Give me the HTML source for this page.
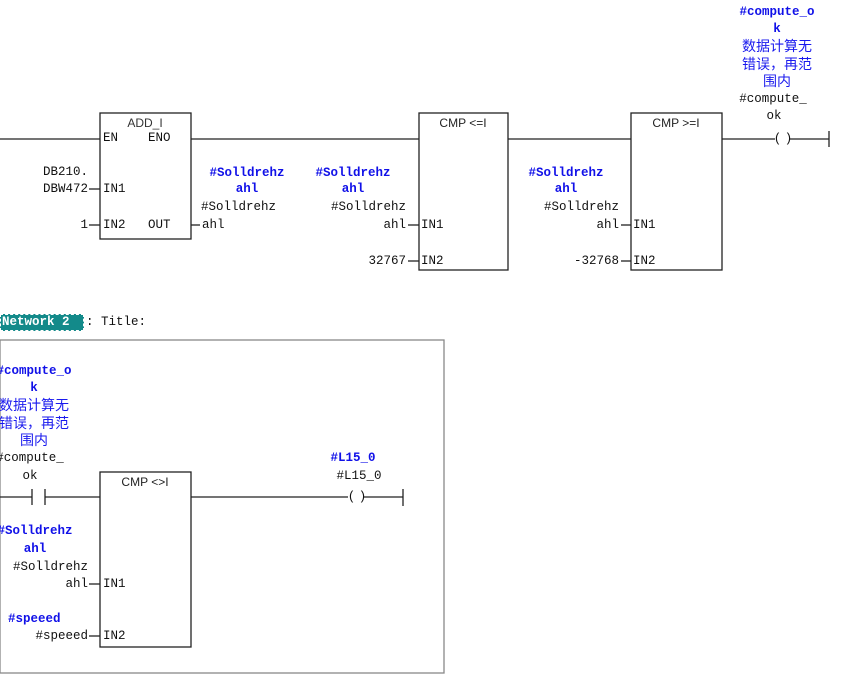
<!DOCTYPE html>
<html><head><meta charset="utf-8">
<style>
html,body{margin:0;padding:0;background:#fff;}
body{width:843px;height:675px;position:relative;overflow:hidden;}
.t,.b,.s{position:absolute;white-space:nowrap;line-height:16px;height:16px;}
.t{font-family:"Liberation Mono","Noto Sans CJK SC",monospace;font-size:12.5px;color:#111;letter-spacing:0;}
.b{font-family:"Liberation Mono","Noto Sans CJK SC",monospace;font-size:12.5px;font-weight:bold;color:#1010e8;letter-spacing:0;}
.c{font-family:"Liberation Sans","Noto Sans CJK SC",sans-serif;font-size:14px;font-weight:normal;color:#1a1aee;letter-spacing:0;}
.s{font-family:"Liberation Sans",sans-serif;font-size:12px;color:#222;}
.ctr{transform:translateX(-50%);text-align:center;}
.r{transform:translateX(-100%);}
svg{position:absolute;left:0;top:0;}
</style></head><body>
<svg width="843" height="675" stroke="#222" stroke-width="1.3" fill="none">
<line x1="0" y1="139" x2="100" y2="139"/>
<rect x="100" y="113" width="91" height="126"/>
<line x1="191" y1="139" x2="419" y2="139"/>
<rect x="419" y="113" width="89" height="157"/>
<line x1="508" y1="139" x2="631" y2="139"/>
<rect x="631" y="113" width="91" height="157"/>
<line x1="722" y1="139" x2="775" y2="139"/>
<line x1="789" y1="139" x2="829" y2="139"/>
<line x1="829" y1="131" x2="829" y2="147"/>
<line x1="89" y1="189" x2="100" y2="189"/>
<line x1="89" y1="225" x2="100" y2="225"/>
<line x1="191" y1="225" x2="200" y2="225"/>
<line x1="408" y1="225" x2="419" y2="225"/>
<line x1="408" y1="261" x2="419" y2="261"/>
<line x1="621" y1="225" x2="631" y2="225"/>
<line x1="621" y1="261" x2="631" y2="261"/>
<rect x="0" y="340" width="444" height="333" stroke="#888"/>
<line x1="0" y1="497" x2="32" y2="497"/>
<line x1="32" y1="489" x2="32" y2="505"/>
<line x1="45" y1="489" x2="45" y2="505"/>
<line x1="45" y1="497" x2="100" y2="497"/>
<rect x="100" y="472" width="91" height="175"/>
<line x1="191" y1="497" x2="348" y2="497"/>
<line x1="363" y1="497" x2="403" y2="497"/>
<line x1="403" y1="489" x2="403" y2="506"/>
<line x1="89" y1="584" x2="100" y2="584"/>
<line x1="89" y1="636" x2="100" y2="636"/>
</svg>

<div class="s ctr" style="left:145px;top:115px;color:#333">ADD_I</div>
<div class="t" style="left:103px;top:130px">EN</div>
<div class="t" style="left:148px;top:130px">ENO</div>
<div class="t" style="left:103px;top:181px">IN1</div>
<div class="t" style="left:103px;top:217px">IN2</div>
<div class="t" style="left:148px;top:217px">OUT</div>
<div class="t" style="left:43px;top:164px">DB210.</div>
<div class="t r" style="left:88px;top:181px">DBW472</div>
<div class="t r" style="left:88px;top:217px">1</div>
<div class="t" style="left:202px;top:217px">ahl</div>
<div class="b ctr" style="left:247px;top:165px">#Solldrehz</div>
<div class="b ctr" style="left:247px;top:181px">ahl</div>
<div class="t" style="left:201px;top:199px">#Solldrehz</div>

<div class="b ctr" style="left:353px;top:165px">#Solldrehz</div>
<div class="b ctr" style="left:353px;top:181px">ahl</div>
<div class="t r" style="left:406px;top:199px">#Solldrehz</div>
<div class="t r" style="left:406px;top:217px">ahl</div>
<div class="t r" style="left:406px;top:253px">32767</div>
<div class="s ctr" style="left:463px;top:115px">CMP &lt;=I</div>
<div class="t" style="left:421px;top:217px">IN1</div>
<div class="t" style="left:421px;top:253px">IN2</div>

<div class="b ctr" style="left:566px;top:165px">#Solldrehz</div>
<div class="b ctr" style="left:566px;top:181px">ahl</div>
<div class="t" style="left:544px;top:199px">#Solldrehz</div>
<div class="t r" style="left:619px;top:217px">ahl</div>
<div class="t r" style="left:619px;top:253px">-32768</div>
<div class="s ctr" style="left:676px;top:115px">CMP &gt;=I</div>
<div class="t" style="left:633px;top:217px">IN1</div>
<div class="t" style="left:633px;top:253px">IN2</div>

<div class="b ctr" style="left:777px;top:4px">#compute_o</div>
<div class="b ctr" style="left:777px;top:21px">k</div>
<div class="b c ctr" style="left:777px;top:38px">数据计算无</div>
<div class="b c ctr" style="left:777px;top:56px">错误，再范</div>
<div class="b c ctr" style="left:777px;top:73px">围内</div>
<div class="t ctr" style="left:773px;top:91px">#compute_</div>
<div class="t ctr" style="left:774px;top:108px">ok</div>
<div class="t ctr" style="left:782px;top:131px;letter-spacing:-2px">( )</div>

<div style="position:absolute;left:0;top:314px;width:84px;height:17px;background:#138a8a;border:1px dashed #fff;box-sizing:border-box;"></div>
<div class="t" style="left:2px;top:314px;color:#fff;font-weight:bold;">Network 2</div>
<div class="t" style="left:86px;top:314px">: Title:</div>

<div class="b ctr" style="left:34px;top:363px">#compute_o</div>
<div class="b ctr" style="left:34px;top:380px">k</div>
<div class="b c ctr" style="left:34px;top:397px">数据计算无</div>
<div class="b c ctr" style="left:34px;top:415px">错误，再范</div>
<div class="b c ctr" style="left:34px;top:432px">围内</div>
<div class="t ctr" style="left:30px;top:450px">#compute_</div>
<div class="t ctr" style="left:30px;top:468px">ok</div>

<div class="s ctr" style="left:145px;top:474px">CMP &lt;&gt;I</div>
<div class="t" style="left:103px;top:576px">IN1</div>
<div class="t" style="left:103px;top:628px">IN2</div>

<div class="b ctr" style="left:35px;top:523px">#Solldrehz</div>
<div class="b ctr" style="left:35px;top:541px">ahl</div>
<div class="t" style="left:13px;top:559px">#Solldrehz</div>
<div class="t r" style="left:88px;top:576px">ahl</div>
<div class="b" style="left:8px;top:611px">#speeed</div>
<div class="t r" style="left:88px;top:628px">#speeed</div>

<div class="b ctr" style="left:353px;top:450px">#L15_0</div>
<div class="t ctr" style="left:359px;top:468px">#L15_0</div>
<div class="t ctr" style="left:356px;top:489px;letter-spacing:-2px">( )</div>
</body></html>
